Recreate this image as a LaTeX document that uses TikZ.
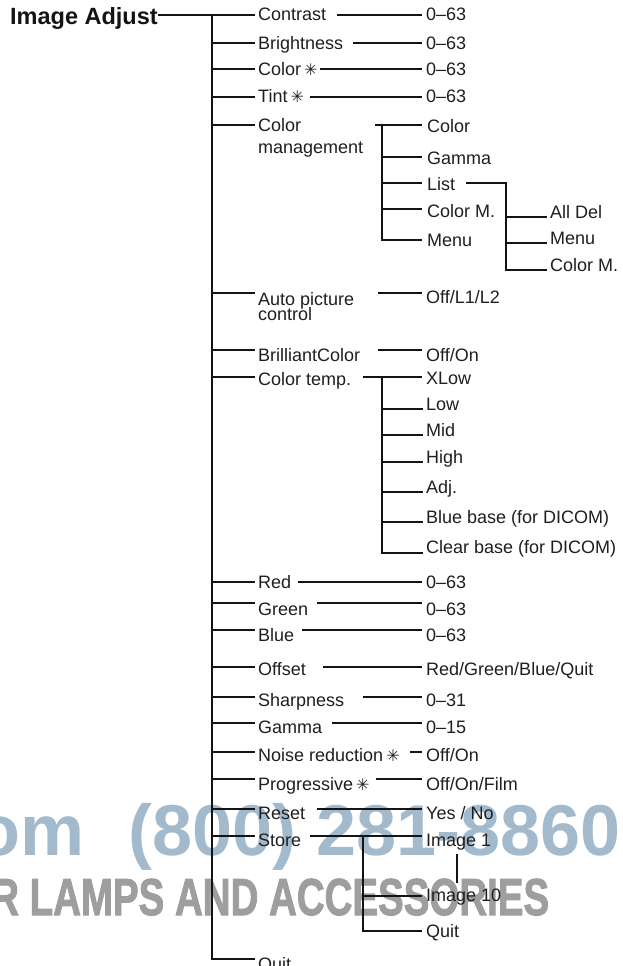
\documentclass[tikz,border=0pt]{standalone}
\usepackage{fontspec}
\setmainfont{Liberation Sans}
\newfontfamily\lf{Liberation Sans}
\newfontfamily\dvf{DejaVu Sans}
\newfontfamily\wmf[BoldFont={Liberation Sans Bold},BoldFeatures={FakeBold=2}]{Liberation Sans}
\newcommand\lbfont{\lf\fontsize{18}{21}\selectfont}
\newcommand\hdfont{\lf\bfseries\fontsize{23.5}{26}\selectfont}
\newcommand\astk{\,{\dvf\fontsize{16}{16}\selectfont ✳}}
\definecolor{wmblue}{RGB}{163,186,205}
\definecolor{wmgrey}{RGB}{158,158,158}
\tikzset{
  ln/.style={line width=2.7pt, draw=black!92},
  lbl/.style={anchor=base west, inner sep=0pt, font=\lbfont, text=black!88},
}
\newcommand\mrow[4]{% name, line y, baseline, text
  \node[lbl] (#1) at (258,#3) {#4};
  \draw[ln] (212,#2) -- (255,#2);}
\newcommand\vrow[5]{% name, line y, baseline, line start x, text
  \node[lbl] (#1) at (426,#3) {#5};
  \draw[ln] (#4,#2) -- (422,#2);}
\begin{document}
\begin{tikzpicture}[x=1pt,y=-1pt]
\useasboundingbox (0,0) rectangle (622,966);
\fill[white] (0,0) rectangle (622,966);
% watermark
\node[anchor=base west, inner sep=0pt, font=\lf\bfseries\fontsize{72}{72}\selectfont, text=wmblue] (wm1) at (128,855) {(800) 281-8860};
\node[anchor=base east, inner sep=0pt, font=\lf\bfseries\fontsize{72}{72}\selectfont, text=wmblue] (wm0) at (85,855) {om};
\node[anchor=base west, inner sep=0pt, font=\wmf\bfseries\fontsize{52}{52}\selectfont, text=wmgrey] (wm2) at (-9,915) {\scalebox{0.74}[1]{R LAMPS AND ACCESSORIES}};
% heading and trunk
\node[anchor=base west, inner sep=0pt, font=\hdfont, text=black!92] (head) at (10,25) {Image Adjust};
\draw[ln] (158,15) -- (255,15);
\draw[ln] (212,15) -- (212,959) -- (255,959);
% main rows
\mrow{contrast}{15}{21}{Contrast}
\vrow{v1}{15}{21}{337}{0–63}
\mrow{bright}{43}{49}{Brightness}
\vrow{v2}{43}{49}{353}{0–63}
\mrow{color}{69}{75}{Color\astk}
\vrow{v3}{69}{75}{320}{0–63}
\mrow{tint}{97}{102}{Tint\astk}
\vrow{v4}{97}{102}{310}{0–63}
\mrow{cm}{125}{131}{Color}
\node[lbl] (cm2) at (258,153) {management};
% color management subtree
\draw[ln] (375,125) -- (422,125);
\draw[ln] (382,125) -- (382,240) -- (422,240);
\node[lbl] (cmc) at (427,132) {Color};
\draw[ln] (382,157) -- (422,157);
\node[lbl] (cmg) at (427,164) {Gamma};
\draw[ln] (382,183) -- (422,183);
\node[lbl] (cml) at (427,190.5) {List};
\draw[ln] (382,209) -- (422,209);
\node[lbl] (cmm) at (427,217) {Color M.};
\node[lbl] (cmn) at (427,246.5) {Menu};
% list subtree
\draw[ln] (466,183) -- (506,183) -- (506,270) -- (547,270);
\draw[ln] (506,217) -- (547,217);
\draw[ln] (506,243) -- (547,243);
\node[lbl] (la) at (550,218) {All Del};
\node[lbl] (lm) at (550,244.5) {Menu};
\node[lbl] (lc) at (550,271.5) {Color M.};
% auto picture
\mrow{apc}{293}{305}{Auto picture}
\node[lbl] (apc2) at (258,320) {control};
\vrow{v5}{293}{303}{378}{Off/L1/L2}
\mrow{bc}{350}{361.5}{BrilliantColor}
\vrow{v6}{350}{361.5}{378}{Off/On}
\mrow{ct}{377}{385}{Color temp.}
\draw[ln] (363,377) -- (422,377);
\draw[ln] (382,377) -- (382,553) -- (423,553);
\node[lbl] (ct1) at (426,384) {XLow};
\draw[ln] (382,409) -- (423,409);
\node[lbl] (ct2) at (426,410) {Low};
\draw[ln] (382,435) -- (423,435);
\node[lbl] (ct3) at (426,436) {Mid};
\draw[ln] (382,462) -- (423,462);
\node[lbl] (ct4) at (426,463) {High};
\draw[ln] (382,492) -- (423,492);
\node[lbl] (ct5) at (426,493) {Adj.};
\draw[ln] (382,522) -- (423,522);
\node[lbl] (ct6) at (426,523) {Blue base (for DICOM)};
\node[lbl] (ct7) at (426,553) {Clear base (for DICOM)};
% colour channels
\mrow{red}{582}{588}{Red}
\vrow{v7}{582}{588}{298}{0–63}
\mrow{green}{603}{615}{Green}
\vrow{v8}{603}{615}{317}{0–63}
\mrow{blue}{630}{641.5}{Blue}
\vrow{v9}{630}{641.5}{302}{0–63}
\mrow{off}{667}{675}{Offset}
\vrow{v10}{667}{675}{323}{Red/Green/Blue/Quit}
\mrow{sharp}{697}{706.5}{Sharpness}
\vrow{v11}{697}{706.5}{363}{0–31}
\mrow{gam}{723}{733}{Gamma}
\vrow{v12}{723}{733}{332}{0–15}
\mrow{noise}{752}{761.5}{Noise reduction\astk}
\vrow{v13}{752}{761.5}{410}{Off/On}
\mrow{prog}{779}{790}{Progressive\astk}
\vrow{v14}{779}{790}{376}{Off/On/Film}
\mrow{reset}{809}{819}{Reset}
\vrow{v15}{809}{819}{317}{Yes / No}
\mrow{store}{836}{846}{Store}
\vrow{img1}{836}{846}{310}{Image 1}
\draw[ln] (363,836) -- (363,931) -- (422,931);
\draw[ln] (363,896) -- (422,896);
\node[lbl] (img10) at (426,901.5) {Image 10};
\node[lbl] (squit) at (426,937) {Quit};
\draw[ln] (457,854) -- (457,883);
% main quit
\node[lbl] (quit) at (258,970) {Quit};
\end{tikzpicture}
\end{document}
